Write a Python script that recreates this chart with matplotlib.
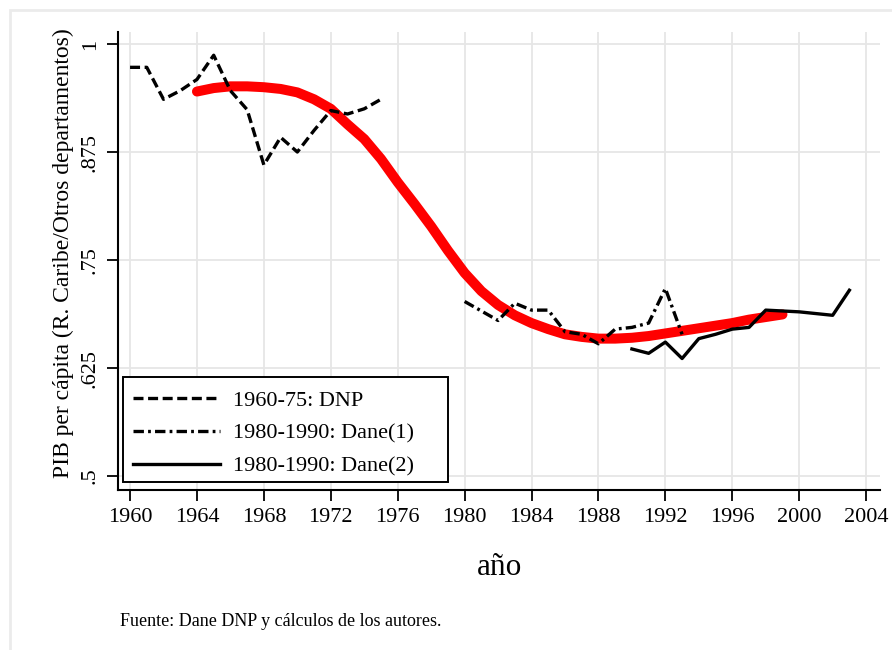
import matplotlib
matplotlib.use("Agg")
import matplotlib.pyplot as plt
from matplotlib.patches import Rectangle

plt.rcParams['font.family'] = ['Liberation Serif', 'DejaVu Serif']
plt.rcParams['lines.scale_dashes'] = False

# ---- data ----
dnp_years = [1960, 1961, 1962, 1963, 1964, 1965, 1966, 1967, 1968, 1969, 1970,
             1971, 1972, 1973, 1974, 1975]
dnp_vals = [0.973, 0.973, 0.936, 0.946, 0.959, 0.987, 0.946, 0.924, 0.860, 0.892,
            0.875, 0.900, 0.923, 0.919, 0.925, 0.936]

dane1_years = [1980, 1981, 1982, 1983, 1984, 1985, 1986, 1987, 1988, 1989, 1990,
               1991, 1992, 1993]
dane1_vals = [0.702, 0.691, 0.680, 0.700, 0.692, 0.692, 0.667, 0.664, 0.653, 0.670,
              0.672, 0.677, 0.717, 0.664]

dane2_years = [1990, 1991, 1992, 1993, 1994, 1995, 1996, 1997, 1998, 1999, 2000,
               2001, 2002, 2003]
dane2_vals = [0.647, 0.642, 0.655, 0.636, 0.659, 0.664, 0.670, 0.672, 0.692, 0.691,
              0.690, 0.688, 0.686, 0.715]

smooth_years = [1964, 1965, 1966, 1967, 1968, 1969, 1970, 1971, 1972, 1973, 1974,
                1975, 1976, 1977, 1978, 1979, 1980, 1981, 1982, 1983, 1984, 1985,
                1986, 1987, 1988, 1989, 1990, 1991, 1992, 1993, 1994, 1995, 1996,
                1997, 1998, 1999]
smooth_vals = [0.945, 0.949, 0.951, 0.951, 0.950, 0.948, 0.944, 0.936, 0.925, 0.907,
               0.890, 0.867, 0.840, 0.815, 0.789, 0.761, 0.735, 0.714, 0.698, 0.686,
               0.677, 0.670, 0.664, 0.661, 0.659, 0.659, 0.660, 0.662, 0.665, 0.668,
               0.671, 0.674, 0.677, 0.681, 0.684, 0.687]

x_ticks = [1960, 1964, 1968, 1972, 1976, 1980, 1984, 1988, 1992, 1996, 2000, 2004]
y_ticks = [0.5, 0.625, 0.75, 0.875, 1.0]
y_ticklabels = ['.5', '.625', '.75', '.875', '1']

legend_labels = ['1960-75: DNP', '1980-1990: Dane(1)', '1980-1990: Dane(2)']

# ---- figure ----
W, H = 892, 650
fig = plt.figure(figsize=(W / 100, H / 100), dpi=100)
ax = fig.add_axes([118 / W, 1 - 490 / H, (880 - 118) / W, (490 - 32) / H])

grid_c = '#e6e6e6'
ax.set_axisbelow(True)
ax.grid(True, color=grid_c, linewidth=1.3)

ax.plot(smooth_years, smooth_vals, color='#ff0000', linewidth=7.2,
        solid_capstyle='round', zorder=2)

l1, = ax.plot(dnp_years, dnp_vals, color='black', linewidth=2.4,
              dashes=(7.2, 3.3), zorder=3)
l2, = ax.plot(dane1_years, dane1_vals, color='black', linewidth=2.4,
              dashes=(7.5, 3, 2, 3), zorder=3)
l3, = ax.plot(dane2_years, dane2_vals, color='black', linewidth=2.4, zorder=3)

ax.set_xlim(1959.28, 2004.83)
ax.set_ylim(0.4838, 1.0139)

ax.set_xticks(x_ticks)
ax.set_xticklabels([str(t) for t in x_ticks])
ax.set_yticks(y_ticks)
ax.set_yticklabels(y_ticklabels, rotation=90, va='center')

for s in ['top', 'right']:
    ax.spines[s].set_visible(False)
for s in ['left', 'bottom']:
    ax.spines[s].set_linewidth(1.5)

ax.tick_params(axis='both', length=8, width=1.3, labelsize=16, pad=5)

ax.set_ylabel('PIB per cápita (R. Caribe/Otros departamentos)', fontsize=17,
              va='center')
ax.yaxis.set_label_coords(-0.072, 0.517)
ax.set_xlabel('año', fontsize=22.5, labelpad=19)

# legend frame (Stata style, extra right padding)
frame = Rectangle((123 / W, 1 - 482 / H), 325 / W, 105 / H,
                  transform=fig.transFigure, facecolor='white',
                  edgecolor='black', linewidth=1.4, zorder=4, clip_on=False)
ax.add_artist(frame)

leg = ax.legend([l1, l2, l3], legend_labels, loc='upper left',
                bbox_to_anchor=(133 / W, 1 - 390 / H),
                bbox_transform=fig.transFigure, fontsize=16, frameon=False,
                handlelength=3.9, handletextpad=0.62, borderpad=0.0,
                labelspacing=0.56, borderaxespad=0.0)
leg.set_zorder(5)

fig.text(120 / W, 1 - 621 / H, 'Fuente: Dane DNP y cálculos de los autores.',
         fontsize=13, va='center', ha='left')

fig.patches.append(Rectangle((10 / W, -0.05), 1.2, 1 - 10 / H + 0.05,
                             transform=fig.transFigure, fill=False,
                             edgecolor='#ebebeb', linewidth=2, zorder=0))

fig.savefig('out.png', dpi=100)
